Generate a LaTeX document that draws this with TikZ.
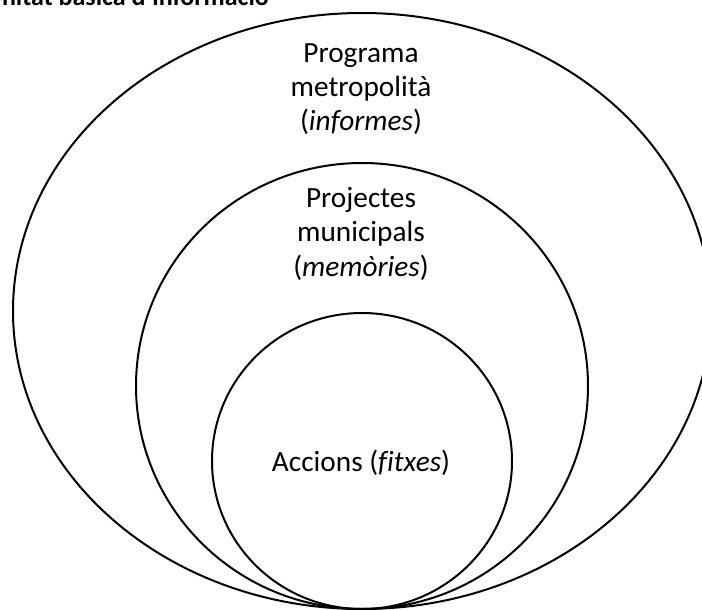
\documentclass[tikz,border=0pt]{standalone}
\usepackage{fontspec}
\setmainfont{Carlito}[Ligatures=NoCommon]
\begin{document}
\begin{tikzpicture}[x=1pt,y=-1pt,
  ring/.style={draw=black,line width=2pt},
  label/.style={align=center,inner sep=0pt,font=\fontsize{29.3}{34.3}\selectfont}]
\useasboundingbox (0,0) rectangle (702,610);
\clip (0,0) rectangle (702,610);
% nested ellipses, all touching at the bottom
\draw[ring] (362,311) ellipse [x radius=349, y radius=298];
\draw[ring] (362,386) ellipse [x radius=226, y radius=223];
\draw[ring] (362,461) ellipse [x radius=150, y radius=148];
% heading, partly cut at the top-left edge
\node[anchor=base east,inner sep=0pt,font=\fontsize{26}{31}\selectfont\bfseries] (title) at (269,6) {Unitat bàsica d'informació};
% ring labels (base anchor sits on the last line)
\node[label,anchor=base] (prog) at (361,131) {Programa\\metropolità\\(\textit{informes})};
\node[label,anchor=base] (proj) at (361,276) {Projectes\\municipals\\(\textit{memòries})};
\node[label,anchor=base] (acc) at (361,471) {Accions (\textit{fitxes})};
\end{tikzpicture}
\end{document}
